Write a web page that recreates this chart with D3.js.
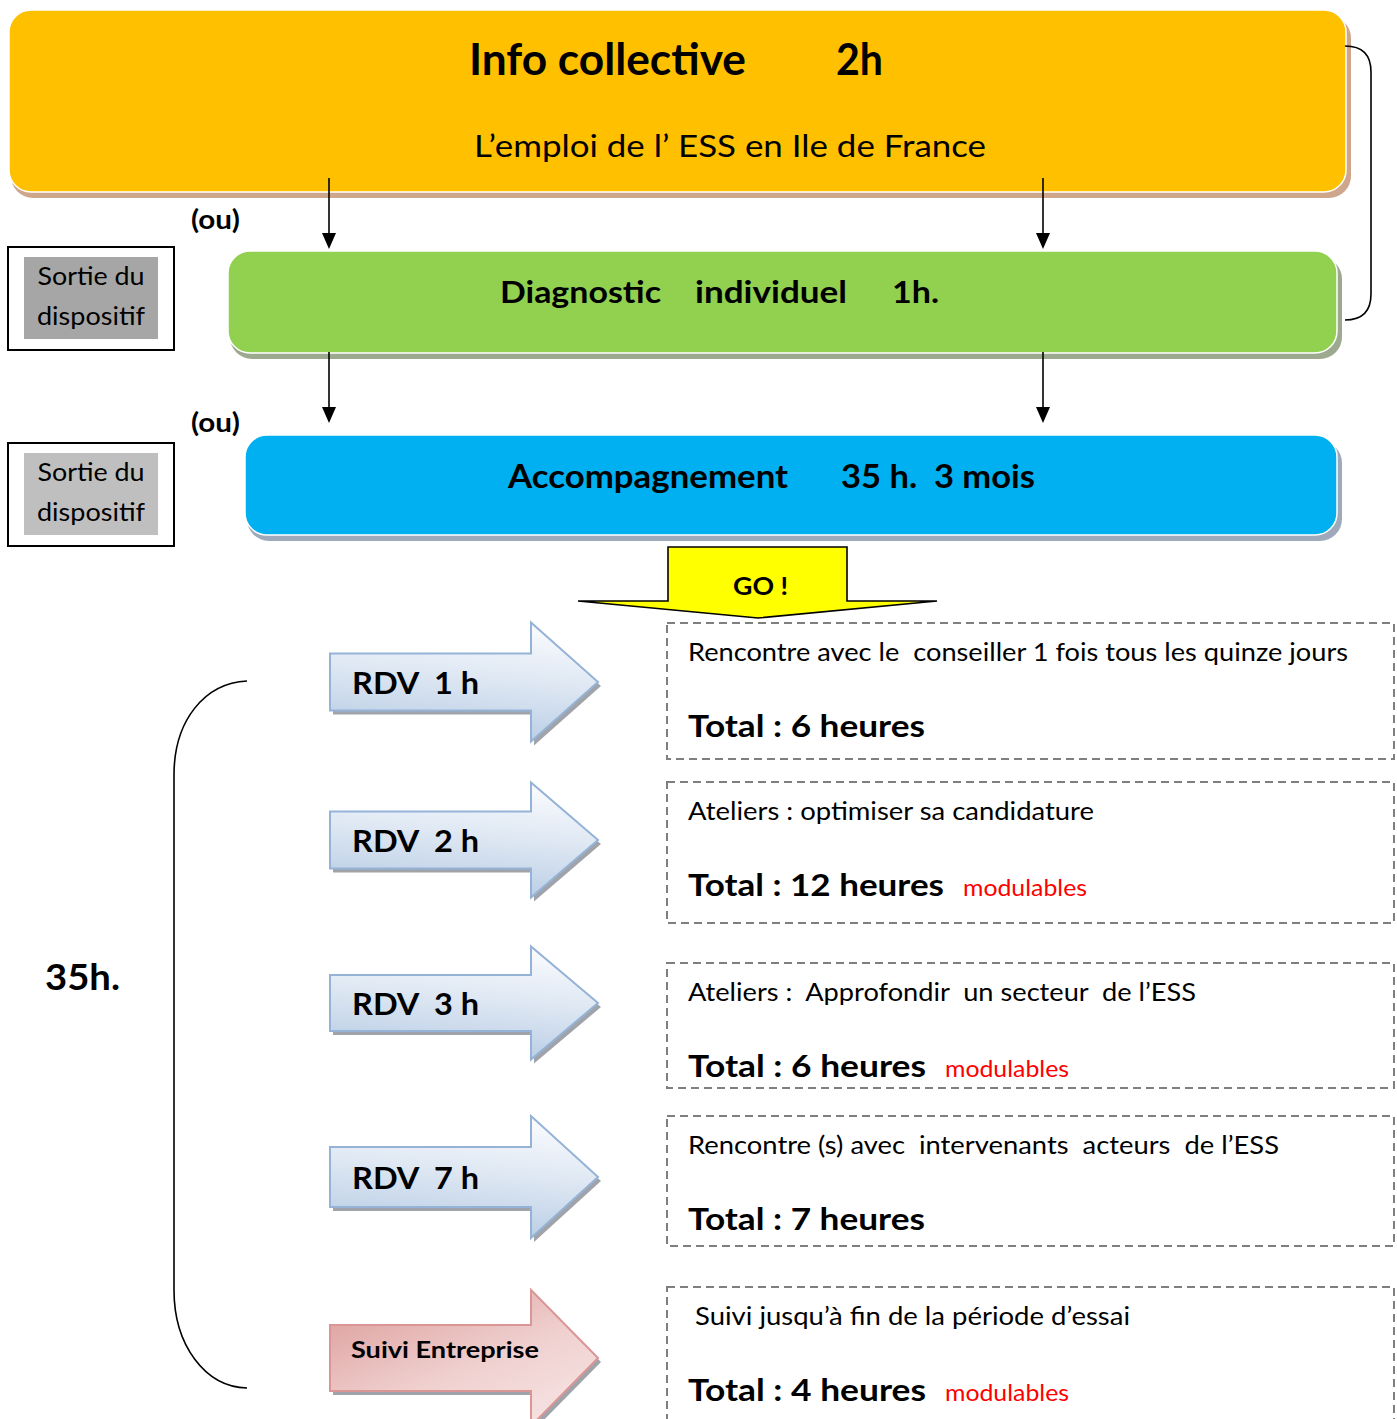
<!DOCTYPE html>
<html>
<head>
<meta charset="utf-8">
<script src="https://cdn.jsdelivr.net/npm/d3@7"></script>
<style>
  body { margin: 0; background: #fff; }
  text { font-family: Lato, "Open Sans", sans-serif; white-space: pre; }
</style>
</head>
<body>
<div id="viz"></div>
<script>
(function () {
  // ---- contenu du schéma ----
  var titleParts = ['Info collective', '2h'];
  var subtitle = 'L’emploi de l’ ESS en Ile de France';
  var diagParts = ['Diagnostic', 'individuel', '1h.'];
  var accParts = ['Accompagnement', '35 h.  3 mois'];
  var exitLines = ['Sortie du', 'dispositif'];
  var orLabel = '(ou)';
  var goLabel = 'GO !';
  var totalLabel = '35h.';
  var stepLabels = ['RDV  1 h', 'RDV  2 h', 'RDV  3 h', 'RDV  7 h', 'Suivi Entreprise'];
  var stepDetails = [
    'Rencontre avec le  conseiller 1 fois tous les quinze jours',
    'Ateliers : optimiser sa candidature',
    'Ateliers :  Approfondir  un secteur  de l’ESS',
    'Rencontre (s) avec  intervenants  acteurs  de l’ESS',
    ' Suivi jusqu’à fin de la période d’essai'
  ];
  var stepTotals = ['Total : 6 heures', 'Total : 12 heures', 'Total : 6 heures', 'Total : 7 heures', 'Total : 4 heures'];
  var stepModulable = [false, true, true, false, true];
  var modLabel = 'modulables';

  // ---- mise en page ----
  var width = 1397, height = 1419;
  var rowTop = [623, 782, 963, 1116, 1287];
  var rowBottom = [759, 923, 1088, 1246, 1440];
  var arrowMid = [682, 840, 1003, 1177, 1358];
  var bodyH = [57, 57, 56, 60, 66];
  var headH = [119, 115, 113, 122, 136];

  var svg = d3.select('#viz').append('svg')
    .attr('width', width).attr('height', height);

  var defs = svg.append('defs');
  var gb = defs.append('linearGradient').attr('id', 'gBlue')
    .attr('x1', 0.4).attr('y1', 0).attr('x2', 0.2).attr('y2', 1);
  gb.append('stop').attr('offset', 0).attr('stop-color', '#F7F9FD');
  gb.append('stop').attr('offset', 0.45).attr('stop-color', '#DCE6F2');
  gb.append('stop').attr('offset', 1).attr('stop-color', '#B4C9E3');
  var gr = defs.append('linearGradient').attr('id', 'gRed')
    .attr('x1', 0).attr('y1', 0).attr('x2', 0.8).attr('y2', 1);
  gr.append('stop').attr('offset', 0).attr('stop-color', '#DB9896');
  gr.append('stop').attr('offset', 0.6).attr('stop-color', '#EFD0CF');
  gr.append('stop').attr('offset', 1).attr('stop-color', '#F6E3E2');

  function txt(g, s, x, y, size, weight, fill, w, anchor) {
    var t = g.append('text')
      .attr('x', x).attr('y', y)
      .attr('font-size', size)
      .attr('font-weight', weight || 'normal')
      .attr('fill', fill || '#000')
      .attr('text-anchor', anchor || 'start')
      .text(s);
    if (w) {
      t.attr('textLength', w).attr('lengthAdjust', 'spacingAndGlyphs');
    }
    return t;
  }

  // boite arrondie avec ombre
  function roundBox(x0, y0, x1, y1, fill, shadow) {
    svg.append('rect')
      .attr('x', x0 + 2).attr('y', y0 + 6)
      .attr('width', x1 - x0 + 3).attr('height', y1 - y0)
      .attr('rx', 22).attr('fill', shadow);
    svg.append('rect')
      .attr('x', x0).attr('y', y0)
      .attr('width', x1 - x0).attr('height', y1 - y0)
      .attr('rx', 22).attr('fill', fill)
      .attr('stroke', '#fff').attr('stroke-width', 1.5);
  }

  function downArrow(x, y0, y1) {
    svg.append('line')
      .attr('x1', x).attr('y1', y0).attr('x2', x).attr('y2', y1 - 14)
      .attr('stroke', '#000').attr('stroke-width', 1.6);
    svg.append('path')
      .attr('d', 'M' + (x - 7) + ',' + (y1 - 16) + 'L' + (x + 7) + ',' + (y1 - 16) + 'L' + x + ',' + y1 + 'Z')
      .attr('fill', '#000');
  }

  function exitBox(y0) {
    svg.append('rect').attr('x', 8).attr('y', y0).attr('width', 166).attr('height', 103)
      .attr('fill', '#fff').attr('stroke', '#000').attr('stroke-width', 2);
    svg.append('rect').attr('x', 24).attr('y', y0 + 10).attr('width', 134).attr('height', 82)
      .attr('fill', y0 < 400 ? '#A6A6A6' : '#BFBFBF');
    txt(svg, exitLines[0], 91, y0 + 38, 25, 'normal', '#000', 107, 'middle');
    txt(svg, exitLines[1], 91, y0 + 78, 25, 'normal', '#000', 108, 'middle');
  }

  // ---- Info collective ----
  roundBox(9, 10, 1346, 192, '#FFC000', '#CDA68C');
  txt(svg, titleParts[0], 469, 75, 43, 'bold', '#000', 277);
  txt(svg, titleParts[1], 836, 75, 43, 'bold', '#000', 47);
  txt(svg, subtitle, 474, 157, 31, 'normal', '#000', 512);

  // accolade droite
  svg.append('path')
    .attr('d', 'M1345,46 Q1371,46 1371,72 L1371,294 Q1371,320 1345,320')
    .attr('fill', 'none').attr('stroke', '#000').attr('stroke-width', 1.6);

  downArrow(329, 178, 249);
  downArrow(1043, 178, 249);
  txt(svg, orLabel, 191, 229, 26, 'bold', '#000', 49);
  exitBox(247);

  // ---- Diagnostic ----
  roundBox(228, 251, 1337, 353, '#92D050', '#9DA98F');
  txt(svg, diagParts[0], 500, 303, 30, 'bold', '#000', 161);
  txt(svg, diagParts[1], 695, 303, 30, 'bold', '#000', 152);
  txt(svg, diagParts[2], 892, 303, 30, 'bold', '#000', 47);

  downArrow(329, 352, 423);
  downArrow(1043, 352, 423);
  txt(svg, orLabel, 191, 432, 26, 'bold', '#000', 49);
  exitBox(443);

  // ---- Accompagnement ----
  roundBox(245, 435, 1337, 535, '#00B0F0', '#9EA9BB');
  txt(svg, accParts[0], 508, 488, 32, 'bold', '#000', 280);
  txt(svg, accParts[1], 841, 488, 32, 'bold', '#000', 194);

  // ---- GO ! ----
  svg.append('path')
    .attr('d', 'M668,547 L847,547 L847,601 L937,601 L758,618 L578,601 L668,601 Z')
    .attr('fill', '#FFFF00').attr('stroke', '#000').attr('stroke-width', 1.6)
    .attr('stroke-linejoin', 'miter');
  txt(svg, goLabel, 733, 595, 24, 'bold', '#000', 55);

  // ---- accolade gauche + 35h. ----
  svg.append('path')
    .attr('d', 'M247,681 C205,683 174,720 174,775 L174,1290 C174,1345 205,1387 247,1388')
    .attr('fill', 'none').attr('stroke', '#000').attr('stroke-width', 1.6);
  txt(svg, totalLabel, 45, 990, 37, 'bold', '#000', 75);

  // ---- étapes ----
  var x0 = 330, xHead = 531, xTip = 598;
  function arrowPath(i, dx, dy) {
    var c = arrowMid[i] + dy, b = bodyH[i] / 2, h = headH[i] / 2;
    var p = d3.path();
    p.moveTo(x0 + dx, c - b);
    p.lineTo(xHead + dx, c - b);
    p.lineTo(xHead + dx, c - h);
    p.lineTo(xTip + dx, c);
    p.lineTo(xHead + dx, c + h);
    p.lineTo(xHead + dx, c + b);
    p.lineTo(x0 + dx, c + b);
    p.closePath();
    return p.toString();
  }

  var steps = svg.selectAll('g.step')
    .data(stepLabels)
    .enter().append('g').attr('class', 'step');

  // ombre
  steps.append('path')
    .attr('d', function (d, i) { return arrowPath(i, 3, 4); })
    .attr('fill', '#A0A4AA');
  steps.append('path')
    .attr('d', function (d, i) { return arrowPath(i, 0, 0); })
    .attr('fill', function (d, i) { return i === 4 ? 'url(#gRed)' : 'url(#gBlue)'; })
    .attr('stroke', function (d, i) { return i === 4 ? '#DA9694' : '#95B3D7'; })
    .attr('stroke-width', 2);
  steps.each(function (d, i) {
    var g = d3.select(this);
    if (i === 4) {
      txt(g, d, 351, arrowMid[i], 23, 'bold', '#000', 188);
    } else {
      txt(g, d, 352, arrowMid[i] + 12, 30, 'bold', '#000', 127);
    }
  });

  // boites pointillées
  var detailW = [660, 406, 508, 591, 436];
  var totalW = [237, 256, 238, 237, 238];
  var boxes = svg.selectAll('g.detail')
    .data(stepDetails)
    .enter().append('g').attr('class', 'detail');

  boxes.append('rect')
    .attr('x', 667)
    .attr('y', function (d, i) { return rowTop[i]; })
    .attr('width', 727)
    .attr('height', function (d, i) { return rowBottom[i] - rowTop[i]; })
    .attr('fill', 'none')
    .attr('stroke', '#7F7F7F')
    .attr('stroke-width', 2)
    .attr('stroke-dasharray', '8,5');

  boxes.each(function (d, i) {
    var g = d3.select(this);
    txt(g, d, 688, rowTop[i] + 38, 25, 'normal', '#000', detailW[i] + (i === 4 ? 6 : 0));
    txt(g, stepTotals[i], 688, rowTop[i] + 114, 30, 'bold', '#000', totalW[i]);
    if (stepModulable[i]) {
      txt(g, modLabel, 688 + totalW[i] + (i === 1 ? 19 : 19), rowTop[i] + 114, 23, 'normal', '#FF0000', 124);
    }
  });
})();
</script>
</body>
</html>
